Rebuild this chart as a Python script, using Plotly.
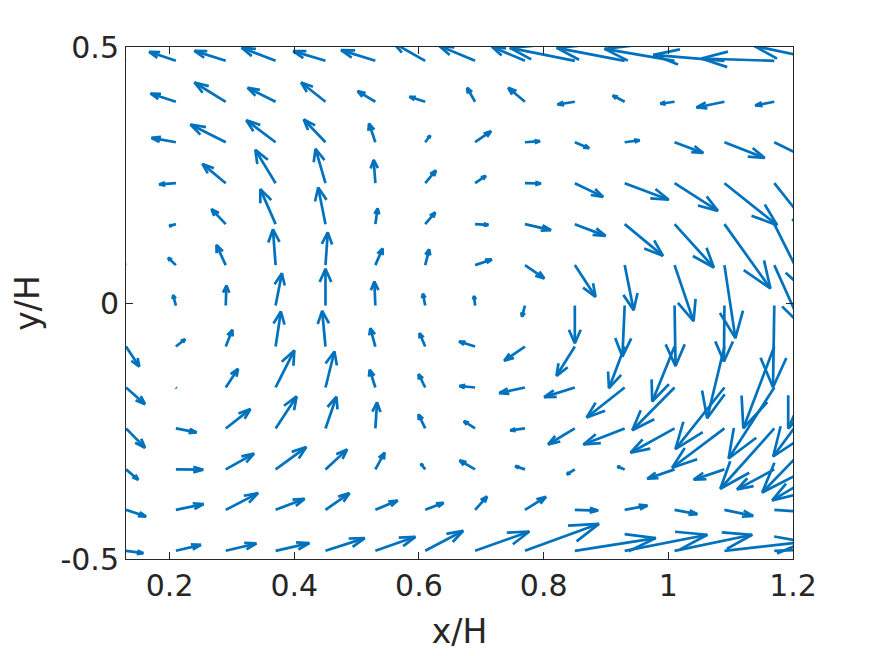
import numpy as np
import plotly.graph_objects as go

# grid positions (x/H, y/H)
X = [0.13, 0.21, 0.29, 0.37, 0.45, 0.53, 0.61, 0.69, 0.77, 0.85, 0.93, 1.01, 1.09, 1.17, 1.25]
Y = [0.473, 0.393, 0.314, 0.234, 0.154, 0.074, -0.005, -0.085, -0.165, -0.245, -0.325, -0.404, -0.484]

# velocity components (rows top->bottom, columns left->right), in units of 0.01 H
U = [
    [-4.00, -4.28, -5.02, -5.45, -5.18, -5.50, -5.13, -5.77, -5.29, -10.42, -10.91, -11.23, -11.39, -11.71, -11.23],
    [-3.53, -4.06, -5.02, -4.49, -3.90, -2.84, -2.52, -1.28, -2.68, -2.77, -1.92, -2.29, -4.49, -3.05, -2.41],
    [-3.21, -3.90, -5.66, -4.70, -3.48, -1.01, 0.80, 2.57, 2.41, 2.29, 2.41, 4.60, 6.46, 6.42, 5.61],
    [-1.92, -2.68, -3.74, -3.26, -1.60, -0.27, 1.72, 1.72, 2.57, 4.54, 7.06, 6.95, 8.45, 6.42, 5.61],
    [-0.96, -1.07, -2.29, -2.45, -1.17, 0.37, 1.60, 2.13, 4.17, 4.92, 6.14, 6.30, 7.38, 5.61, 4.81],
    [-0.48, -1.24, -1.49, -0.43, 0.37, 1.17, 0.64, 2.68, 3.10, 3.32, 1.44, 3.05, 1.76, 4.33, 1.60],
    [-0.32, -0.43, 0.11, 1.01, 0.00, -0.16, -0.37, -0.16, -0.48, 0.00, -0.37, 0.16, -0.08, -0.21, -1.60],
    [2.13, 1.49, 1.07, 0.85, -0.53, -0.80, -0.91, -2.57, -3.32, -2.94, -2.52, -3.58, -2.77, -4.97, -5.77],
    [3.05, 0.08, 1.97, 3.00, 1.44, -0.91, -1.07, -2.52, -4.12, -4.92, -6.10, -6.78, -7.86, -7.33, -8.18],
    [3.05, 3.32, 3.96, 3.37, 1.76, 0.27, -1.07, -1.81, -2.36, -4.28, -6.62, -7.06, -8.39, -8.66, -9.94],
    [1.97, 4.38, 4.54, 4.92, 3.48, 1.49, -0.69, -2.49, -1.56, -1.28, -1.17, -4.38, -4.92, -5.98, -8.34],
    [3.21, 4.44, 5.18, 4.65, 3.85, 3.58, 2.94, 1.92, 3.37, 3.74, 3.64, 3.64, 4.60, 4.81, 4.81],
    [2.77, 4.01, 4.92, 5.41, 6.30, 6.42, 6.10, 8.71, 11.87, 12.99, 13.26, 12.46, 12.83, 12.83, 12.83],
]
V = [
    [1.56, 1.76, 1.95, 2.54, 1.89, 2.09, 3.52, 2.93, 2.73, 2.54, 2.54, 2.34, 1.17, 0.45, 2.93],
    [1.17, 1.62, 3.77, 2.73, 3.77, 2.09, 0.98, 2.73, 2.73, -0.53, 1.23, -0.39, -1.11, -0.72, -0.59],
    [0.59, 0.84, 3.46, 4.30, 4.43, 3.65, 1.31, 2.15, 0.20, -1.17, 0.39, -2.09, -3.07, -3.91, -3.91],
    [0.00, -0.25, 3.77, 6.50, 6.70, 4.55, 2.48, 1.43, -0.06, -2.68, -3.22, -5.41, -8.20, -9.77, -9.77],
    [0.00, -0.39, 2.93, 6.84, 7.17, 3.07, 2.29, -0.14, -1.17, -2.29, -6.19, -8.46, -12.56, -13.67, -13.67],
    [0.39, 1.43, 3.91, 6.97, 6.39, 3.26, 3.07, 1.11, -2.60, -6.19, -8.79, -10.94, -14.26, -11.72, -13.67],
    [0.00, 2.05, 3.91, 6.31, 7.17, 4.69, 2.29, 1.86, -2.15, -7.36, -9.96, -11.82, -10.94, -15.96, -15.63],
    [-3.91, 1.43, 3.26, 6.84, 6.97, 3.57, 2.60, 0.98, -2.79, -5.72, -8.14, -10.74, -14.00, -15.96, -16.02],
    [-3.26, -0.10, 3.65, 7.23, 7.03, 3.46, 2.60, 0.29, -1.11, -1.89, -5.86, -8.34, -12.05, -13.87, -13.48],
    [-3.77, -0.78, 3.77, 6.25, 6.19, 5.08, 2.73, 1.43, -0.39, -3.13, -3.13, -4.75, -7.68, -11.78, -12.50],
    [-2.01, -0.06, 3.07, 4.36, 3.91, 3.26, 1.11, 1.76, 0.64, -0.98, 0.59, -1.82, -2.01, -3.91, -6.05],
    [-1.31, 1.11, 3.26, 2.15, 3.26, 1.82, 1.37, 2.60, 2.54, -0.14, 0.84, -0.84, -1.17, -0.39, 0.00],
    [-0.45, 1.17, 1.43, 1.50, 2.48, 2.73, 3.91, 3.77, 5.27, 2.48, 3.13, 3.13, 1.76, 0.59, 0.00],
]

XTICKS = [0.2, 0.4, 0.6, 0.8, 1.0, 1.2]
XTICKTEXT = ["0.2", "0.4", "0.6", "0.8", "1", "1.2"]
YTICKS = [-0.5, 0, 0.5]
YTICKTEXT = ["-0.5", "0", "0.5"]

SCALE = 0.01
ALPHA = 0.36
BETA = 0.36

xs, ys = [], []
for j, yv in enumerate(Y):
    for i, xv in enumerate(X):
        u = U[j][i] * SCALE
        v = V[j][i] * SCALE
        xe, ye = xv + u, yv + v
        # shaft
        xs += [xv, xe, None]
        ys += [yv, ye, None]
        # head (MATLAB quiver style)
        xs += [xe - ALPHA * (u + BETA * v), xe, xe - ALPHA * (u - BETA * v), None]
        ys += [ye - ALPHA * (v - BETA * u), ye, ye - ALPHA * (v + BETA * u), None]

fig = go.Figure()
fig.add_trace(go.Scatter(x=xs, y=ys, mode="lines",
                         line=dict(color="#0072BD", width=2.7),
                         hoverinfo="skip", showlegend=False))

axcol = "#262626"
font = "DejaVu Sans"
fig.update_layout(
    width=867, height=648,
    margin=dict(l=118, r=82, t=39, b=97),
    paper_bgcolor="white", plot_bgcolor="white",
    font=dict(family=font, color=axcol, size=30),
    showlegend=False,
)
fig.update_xaxes(range=[0.13, 1.2], tickvals=XTICKS, ticktext=XTICKTEXT,
                 showgrid=False, zeroline=False, showline=True, linecolor=axcol, linewidth=1,
                 mirror="ticks", ticks="inside", ticklen=7, tickcolor=axcol,
                 tickfont=dict(size=30, family=font, color=axcol),
                 title=dict(text="x/H", font=dict(size=33, family=font, color=axcol), standoff=17),
                 automargin=False)
fig.update_yaxes(range=[-0.5, 0.5], tickvals=YTICKS, ticktext=YTICKTEXT,
                 showgrid=False, zeroline=False, showline=True, linecolor=axcol, linewidth=1,
                 mirror="ticks", ticks="inside", ticklen=7, tickcolor=axcol,
                 tickfont=dict(size=30, family=font, color=axcol),
                 title=dict(text="y/H", font=dict(size=33, family=font, color=axcol), standoff=19),
                 automargin=False)

fig.write_html("out.html")
